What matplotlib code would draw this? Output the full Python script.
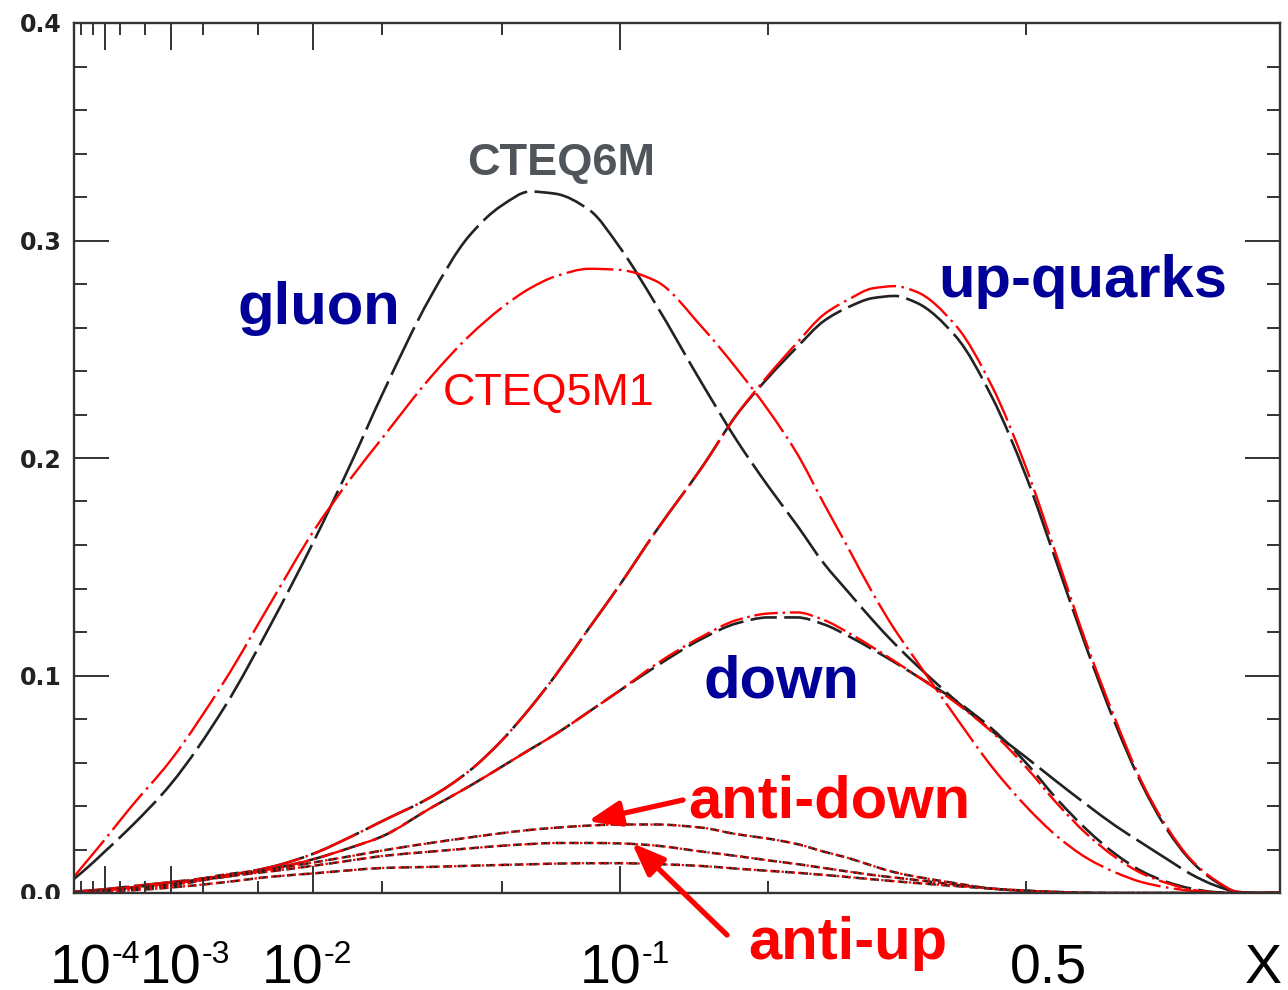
import numpy as np
import matplotlib
matplotlib.use('Agg')
import matplotlib.pyplot as plt
from matplotlib.patches import Rectangle, PathPatch
from matplotlib.path import Path
from matplotlib.text import Annotation
from matplotlib.ticker import MultipleLocator

plt.rcParams['font.family'] = ['Liberation Sans', 'DejaVu Sans']

# momentum fraction x and x*f(x) for each parton
x = [1e-5, 3e-5, 1e-4, 3e-4, 1e-3, 3e-3, 0.006, 0.01, 0.015, 0.02,
     0.03, 0.04, 0.05, 0.06, 0.07, 0.085, 0.1, 0.12, 0.15, 0.175,
     0.2, 0.225, 0.25, 0.275, 0.3, 0.325, 0.35, 0.4, 0.45, 0.5,
     0.55, 0.6, 0.65, 0.7, 0.75, 0.8, 0.85, 0.9, 0.95, 1.0]

gluon_6m = [0.0065, 0.011, 0.019, 0.030, 0.050, 0.086, 0.124, 0.161, 0.198, 0.229,
            0.274, 0.302, 0.316, 0.3225, 0.3215, 0.314, 0.297, 0.271, 0.234, 0.208,
            0.187, 0.169, 0.1515, 0.138, 0.1255, 0.1145, 0.105, 0.0885, 0.0745, 0.0625,
            0.051, 0.0405, 0.031, 0.023, 0.0155, 0.0085, 0.0035, 0.0005, 0.0, 0.0]
gluon_5m1 = [0.0075, 0.014, 0.0245, 0.039, 0.061, 0.098, 0.134, 0.166, 0.191, 0.209,
             0.237, 0.256, 0.269, 0.278, 0.2835, 0.287, 0.2865, 0.2815, 0.260, 0.241,
             0.222, 0.202, 0.179, 0.158, 0.138, 0.121, 0.107, 0.081, 0.058, 0.040,
             0.026, 0.016, 0.0095, 0.005, 0.0025, 0.001, 0.0002, 0.0, 0.0, 0.0]
up_6m = [0.0005, 0.001, 0.0017, 0.003, 0.005, 0.008, 0.012, 0.018, 0.026, 0.033,
         0.044, 0.056, 0.070, 0.085, 0.100, 0.122, 0.1415, 0.166, 0.196, 0.220,
         0.237, 0.251, 0.263, 0.2695, 0.2735, 0.2745, 0.2715, 0.256, 0.228, 0.192,
         0.151, 0.112, 0.078, 0.050, 0.029, 0.0145, 0.0055, 0.0005, 0.0, 0.0]
up_5m1 = [0.0005, 0.001, 0.0017, 0.003, 0.005, 0.008, 0.012, 0.018, 0.026, 0.033,
          0.044, 0.056, 0.070, 0.085, 0.100, 0.122, 0.1415, 0.166, 0.196, 0.220,
          0.238, 0.253, 0.266, 0.273, 0.278, 0.279, 0.2765, 0.261, 0.233, 0.196,
          0.154, 0.114, 0.080, 0.051, 0.030, 0.015, 0.006, 0.0006, 0.0, 0.0]
down_6m = [0.0003, 0.0007, 0.0013, 0.0025, 0.0045, 0.0075, 0.011, 0.0155, 0.021, 0.026,
           0.039, 0.049, 0.058, 0.066, 0.073, 0.0835, 0.093, 0.104, 0.117, 0.124,
           0.1267, 0.1267, 0.1235, 0.118, 0.112, 0.106, 0.100, 0.0885, 0.0755, 0.060,
           0.043, 0.029, 0.018, 0.010, 0.005, 0.002, 0.0004, 0.0, 0.0, 0.0]
down_5m1 = [0.0003, 0.0007, 0.0013, 0.0025, 0.0045, 0.0075, 0.011, 0.0155, 0.021, 0.026,
            0.039, 0.049, 0.058, 0.066, 0.073, 0.0835, 0.093, 0.105, 0.118, 0.1255,
            0.1285, 0.129, 0.1255, 0.1195, 0.113, 0.1065, 0.100, 0.0875, 0.074, 0.058,
            0.041, 0.027, 0.0165, 0.009, 0.0045, 0.0015, 0.0003, 0.0, 0.0, 0.0]
dbar = [0.0002, 0.0005, 0.001, 0.002, 0.004, 0.0085, 0.011, 0.014, 0.017, 0.0195,
        0.023, 0.0255, 0.0275, 0.029, 0.030, 0.031, 0.0315, 0.0315, 0.030, 0.027,
        0.025, 0.0225, 0.019, 0.016, 0.0125, 0.0095, 0.0075, 0.0045, 0.002, 0.001,
        0.0004, 0.0, 0.0, 0.0, 0.0, 0.0, 0.0, 0.0, 0.0, 0.0]
ubar = [0.0002, 0.0005, 0.001, 0.002, 0.0035, 0.0075, 0.010, 0.0125, 0.015, 0.017,
        0.019, 0.0205, 0.0217, 0.0225, 0.023, 0.023, 0.0228, 0.0218, 0.019, 0.017,
        0.015, 0.0133, 0.0115, 0.0098, 0.0083, 0.0071, 0.006, 0.0038, 0.002, 0.001,
        0.0004, 0.0, 0.0, 0.0, 0.0, 0.0, 0.0, 0.0, 0.0, 0.0]
sbar = [0.0001, 0.0003, 0.0006, 0.0012, 0.0025, 0.005, 0.0075, 0.009, 0.0105, 0.0115,
        0.012, 0.0125, 0.0129, 0.0132, 0.0135, 0.0137, 0.0137, 0.0133, 0.0124, 0.0112,
        0.0102, 0.0093, 0.0083, 0.0073, 0.0063, 0.0054, 0.0046, 0.0032, 0.002, 0.0011,
        0.0005, 0.0002, 0.0, 0.0, 0.0, 0.0, 0.0, 0.0, 0.0, 0.0]

xtick_base = ['10', '10', '10', '10', '0.5', 'X']
xtick_sup = ['-4', '-3', '-2', '-1', '', '']
xtick_left = [50, 140, 262, 580, 1010, 1245]

W, H = 1288, 990
BLACK = '#222222'
RED = '#ff0000'
BLUE = '#000099'

fig = plt.figure(figsize=(W / 100, H / 100), dpi=100)
ax = fig.add_axes([74 / W, 1 - 893 / H, (1280 - 74) / W, (893 - 23) / H])


def fpos(px, py):
    return px / W, 1 - py / H


def smooth_curve(xs, ys, **kw):
    # monotone cubic Bezier through the points, built in cube-root space
    u = np.cbrt(np.asarray(xs, dtype=float))
    y = np.asarray(ys, dtype=float)
    h = np.diff(u)
    d = np.diff(y) / h
    m = np.zeros_like(y)
    m[0], m[-1] = d[0], d[-1]
    for i in range(1, len(y) - 1):
        if d[i - 1] * d[i] > 0:
            w1 = 2 * h[i] + h[i - 1]
            w2 = h[i] + 2 * h[i - 1]
            m[i] = (w1 + w2) / (w1 / d[i - 1] + w2 / d[i])
    verts = [(xs[0], y[0])]
    codes = [Path.MOVETO]
    for i in range(len(y) - 1):
        c1u, c1y = u[i] + h[i] / 3, y[i] + m[i] * h[i] / 3
        c2u, c2y = u[i + 1] - h[i] / 3, y[i + 1] - m[i + 1] * h[i] / 3
        verts += [(c1u ** 3, c1y), (c2u ** 3, c2y), (xs[i + 1], y[i + 1])]
        codes += [Path.CURVE4] * 3
    patch = PathPatch(Path(verts, codes), fill=False, transform=ax.transData,
                      capstyle='butt', **kw)
    ax.add_patch(patch)
    return patch


ax.set_xscale('function', functions=(np.cbrt, lambda u: u ** 3))
ax.set_xlim(1e-5, 1.0)
ax.set_ylim(0, 0.4)

long_dash = (0, (20, 2.8))
dash_dot = (0, (20, 2.3, 1.1, 2.3))
mid_dash = (0, (10, 2.8))
mid_dash_dot = (0, (10, 2, 1.1, 2))

# CTEQ6M black, CTEQ5M1 red
smooth_curve(x, gluon_6m, edgecolor=BLACK, lw=1.9, linestyle=long_dash)
smooth_curve(x, gluon_5m1, edgecolor=RED, lw=1.7, linestyle=dash_dot)
smooth_curve(x, up_6m, edgecolor=BLACK, lw=1.9, linestyle=long_dash)
smooth_curve(x, up_5m1, edgecolor=RED, lw=1.7, linestyle=dash_dot)
smooth_curve(x, down_6m, edgecolor=BLACK, lw=1.9, linestyle=mid_dash)
smooth_curve(x, down_5m1, edgecolor=RED, lw=1.7, linestyle=mid_dash_dot)
for sea in (dbar, ubar, sbar):
    smooth_curve(x, sea, edgecolor=BLACK, lw=1.8, linestyle=(0, (3.5, 2.2)))
    smooth_curve(x, sea, edgecolor=RED, lw=1.6, linestyle=(1, (1.1, 1.4)))

# axes frame and ticks
for s in ax.spines.values():
    s.set_linewidth(1.7)
    s.set_color('#333333')
ax.set_xticks([1e-4, 1e-3, 1e-2, 1e-1])
ax.set_xticks([2e-5, 5e-5, 2e-4, 5e-4, 2e-3, 5e-3, 2e-2, 5e-2, 0.2, 0.5], minor=True)
ax.tick_params(axis='x', which='both', direction='in', top=True, bottom=True,
               labelbottom=False, color='#333333', width=1.4)
ax.tick_params(axis='x', which='major', length=19.5)
ax.tick_params(axis='x', which='minor', length=8.5)
ax.set_yticks([0.0, 0.1, 0.2, 0.3, 0.4])
ax.set_yticklabels(['0.0', '0.1', '0.2', '0.3', '0.4'], fontsize=17,
                   fontweight='bold', color='#222222', family='DejaVu Sans')
ax.yaxis.set_minor_locator(MultipleLocator(0.02))
ax.tick_params(axis='y', which='both', direction='in', left=True, right=True,
               color='#333333', width=1.4, pad=9)
ax.tick_params(axis='y', which='major', length=25)
ax.tick_params(axis='y', which='minor', length=9.5)

# white strip under the frame
fig.add_artist(Rectangle((0, 0), 1, 1 - 899 / H, transform=fig.transFigure,
                         facecolor='white', edgecolor='none', zorder=5))

# curve labels
fig.text(*fpos(467, 175), 'CTEQ6M', fontsize=32.5, fontweight='bold',
         color='#50555c', ha='left', va='baseline')
fig.text(*fpos(443, 405), 'CTEQ5M1', fontsize=32.3, color=RED,
         ha='left', va='baseline')
for label, (lx, ly), col in [('gluon', (237, 324), BLUE),
                             ('up-quarks', (938, 297), BLUE),
                             ('down', (703, 698), BLUE),
                             ('anti-down', (688, 817), RED),
                             ('anti-up', (748, 959), RED)]:
    fig.text(*fpos(lx, ly), label, fontsize=43, fontweight='bold', color=col,
             ha='left', va='baseline', zorder=6)

# arrows pointing at the sea-quark curves
for tip, tail in [((0.0843, 0.033), (683, 800)), ((0.1066, 0.023), (727, 935))]:
    arr = Annotation('', xy=tip, xycoords=ax.transData,
                     xytext=fpos(*tail), textcoords=fig.transFigure,
                     arrowprops=dict(arrowstyle='-|>,head_length=0.9,head_width=0.35',
                                     color=RED, lw=3.8, mutation_scale=22,
                                     shrinkA=0, shrinkB=0))
    arr.set_zorder(7)
    fig.add_artist(arr)

# x axis labels under the strip, exponents set as raised small text
for base, sup, lx in zip(xtick_base, xtick_sup, xtick_left):
    fig.text(*fpos(lx, 983), base, fontsize=40, color='black',
             ha='left', va='baseline', zorder=6)
    if sup:
        fig.text(*fpos(lx + 62, 963), sup, fontsize=23, color='black',
                 ha='left', va='baseline', zorder=6)

fig.savefig('out.png', dpi=100, facecolor='white')
